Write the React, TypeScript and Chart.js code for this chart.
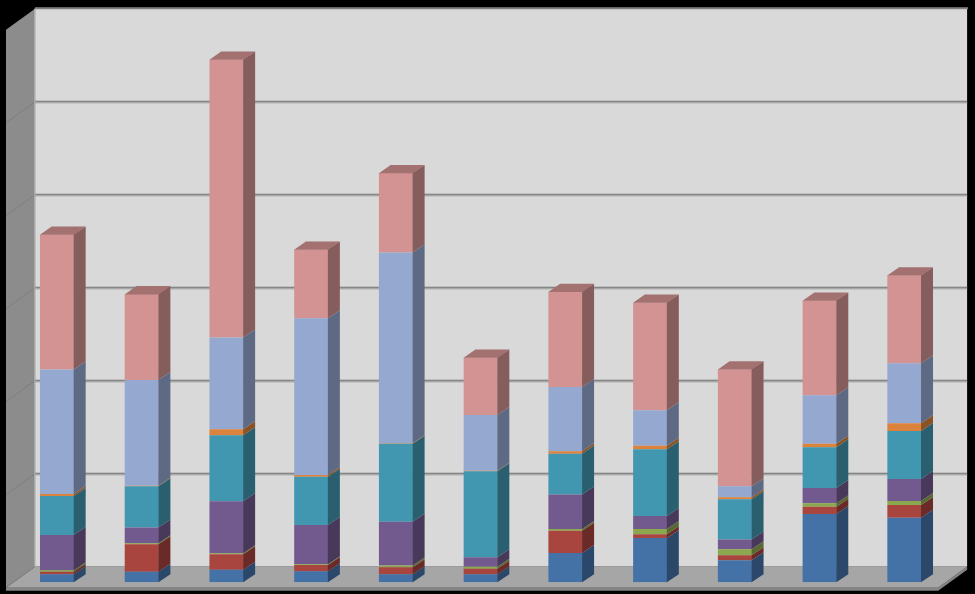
import React, { useEffect, useRef } from "react";
import { Chart, registerables } from "chart.js";

Chart.register(...registerables);

// ---- data (stack order bottom -> top) ----
const categories = ["1", "2", "3", "4", "5", "6", "7", "8", "9", "10", "11"];
const blueValues = [0.086, 0.114, 0.135, 0.12, 0.086, 0.086, 0.315, 0.476, 0.237, 0.734, 0.695];
const redValues = [0.028, 0.295, 0.166, 0.065, 0.075, 0.06, 0.24, 0.04, 0.054, 0.079, 0.137];
const greenValues = [0.015, 0.01, 0.011, 0.01, 0.02, 0.02, 0.018, 0.057, 0.065, 0.036, 0.043];
const purpleValues = [0.38, 0.17, 0.56, 0.42, 0.47, 0.104, 0.37, 0.14, 0.103, 0.165, 0.237];
const tealValues = [0.42, 0.445, 0.71, 0.52, 0.84, 0.925, 0.44, 0.717, 0.434, 0.437, 0.516];
const orangeValues = [0.02, 0.005, 0.065, 0.018, 0.005, 0.005, 0.026, 0.039, 0.022, 0.039, 0.083];
const lightBlueValues = [1.34, 1.135, 0.985, 1.685, 2.05, 0.6, 0.69, 0.38, 0.118, 0.52, 0.645];
const pinkValues = [1.45, 0.925, 2.99, 0.74, 0.855, 0.617, 1.025, 1.16, 1.258, 1.02, 0.946];
const gridValues = [1, 2, 3, 4, 5];
const axisMin = 0;
const axisMax = 6;

const seriesList = [
  { label: "Series 1", data: blueValues, color: "#4471A6" },
  { label: "Series 2", data: redValues, color: "#A9453F" },
  { label: "Series 3", data: greenValues, color: "#8BA84E" },
  { label: "Series 4", data: purpleValues, color: "#72598E" },
  { label: "Series 5", data: tealValues, color: "#4197AF" },
  { label: "Series 6", data: orangeValues, color: "#DB833C" },
  { label: "Series 7", data: lightBlueValues, color: "#95A9D0" },
  { label: "Series 8", data: pinkValues, color: "#D39392" },
];

function shade(hex: string, f: number): string {
  const n = parseInt(hex.slice(1), 16);
  const r = Math.round(((n >> 16) & 255) * f);
  const g = Math.round(((n >> 8) & 255) * f);
  const b = Math.round((n & 255) * f);
  return `rgb(${r},${g},${b})`;
}

// geometry of the 3D look (pixels)
const BACK_DX = 20.4; // front plane -> back wall
const BACK_DY = -15.6;
const DEPTH_X = -29; // back wall -> floor front
const DEPTH_Y = 21;
const BAR_DX = 11.7; // bar depth
const BAR_DY = -8;

function poly(ctx: CanvasRenderingContext2D, pts: number[][], fill: string) {
  ctx.beginPath();
  ctx.moveTo(pts[0][0], pts[0][1]);
  for (let i = 1; i < pts.length; i++) ctx.lineTo(pts[i][0], pts[i][1]);
  ctx.closePath();
  ctx.fillStyle = fill;
  ctx.fill();
}

const threeDPlugin = {
  id: "threeD",
  beforeDatasetsDraw(chart: any) {
    const ctx: CanvasRenderingContext2D = chart.ctx;
    const { left, right } = chart.chartArea;
    const ys = chart.scales.y;
    const by = (v: number) => ys.getPixelForValue(v) + BACK_DY;
    const bx0 = left + BACK_DX;
    const bx1 = right + BACK_DX;
    const yTop = by(axisMax);
    const yBot = by(axisMin);
    ctx.save();
    ctx.fillStyle = "#000";
    ctx.fillRect(0, 0, chart.width, chart.height);

    // left side wall
    poly(
      ctx,
      [
        [bx0, yTop],
        [bx0 + DEPTH_X, yTop + DEPTH_Y],
        [bx0 + DEPTH_X, yBot + DEPTH_Y],
        [bx0, yBot],
      ],
      "#8C8C8C"
    );
    // back wall
    ctx.fillStyle = "#D9D9D9";
    ctx.fillRect(bx0, yTop, bx1 - bx0, yBot - yTop);

    // floor slab thickness
    poly(
      ctx,
      [
        [bx0 + DEPTH_X, yBot + DEPTH_Y],
        [bx1 + DEPTH_X, yBot + DEPTH_Y],
        [bx1, yBot],
        [bx1, yBot + 3],
        [bx1 + DEPTH_X, yBot + DEPTH_Y + 3],
        [bx0 + DEPTH_X, yBot + DEPTH_Y + 3],
      ],
      "#858585"
    );
    // floor top
    poly(
      ctx,
      [
        [bx0, yBot],
        [bx1, yBot],
        [bx1 + DEPTH_X, yBot + DEPTH_Y],
        [bx0 + DEPTH_X, yBot + DEPTH_Y],
      ],
      "#A6A6A6"
    );

    // gridlines on back wall and side wall
    for (const v of gridValues) {
      const gy = by(v);
      ctx.fillStyle = "#868686";
      ctx.fillRect(bx0, gy - 1, bx1 - bx0, 2);
      ctx.fillStyle = "#BDBDBD";
      ctx.fillRect(bx0, gy + 1, bx1 - bx0, 1);
      ctx.beginPath();
      ctx.moveTo(bx0, gy);
      ctx.lineTo(bx0 + DEPTH_X, gy + DEPTH_Y);
      ctx.strokeStyle = "#7E7E7E";
      ctx.lineWidth = 1;
      ctx.stroke();
    }
    // top edge of back wall
    ctx.fillStyle = "#7F7F7F";
    ctx.fillRect(bx0, yTop - 1.5, bx1 - bx0 + 1, 2);
    // left edge highlight of back wall
    ctx.fillStyle = "#A8A8A8";
    ctx.fillRect(bx0 - 1, yTop, 1.5, yBot - yTop);
    ctx.restore();
  },
  afterDatasetsDraw(chart: any) {
    const ctx: CanvasRenderingContext2D = chart.ctx;
    const n = chart.data.labels.length;
    const nd = chart.data.datasets.length;
    ctx.save();
    for (let i = 0; i < nd; i++) {
      const meta = chart.getDatasetMeta(i);
      const color = seriesList[i].color;
      meta.data.forEach((el: any, j: number) => {
        const v = chart.data.datasets[i].data[j];
        if (!v) return;
        const p = el.getProps(["x", "y", "base", "width"], true);
        const r = p.x + p.width / 2;
        poly(
          ctx,
          [
            [r - 0.3, p.y],
            [r + BAR_DX, p.y + BAR_DY],
            [r + BAR_DX, p.base + BAR_DY],
            [r - 0.3, p.base],
          ],
          shade(color, 0.63)
        );
      });
    }
    // top faces
    for (let j = 0; j < n; j++) {
      let top = -1;
      for (let i = 0; i < nd; i++) if (chart.data.datasets[i].data[j] > 0) top = i;
      if (top < 0) continue;
      const el = chart.getDatasetMeta(top).data[j];
      const p = el.getProps(["x", "y", "base", "width"], true);
      const l = p.x - p.width / 2;
      const r = p.x + p.width / 2;
      poly(
        ctx,
        [
          [l, p.y + 0.3],
          [l + BAR_DX, p.y + BAR_DY],
          [r + BAR_DX, p.y + BAR_DY],
          [r, p.y + 0.3],
        ],
        shade(seriesList[top].color, 0.77)
      );
    }
    ctx.restore();
  },
};

export default function App() {
  const ref = useRef<HTMLCanvasElement | null>(null);
  useEffect(() => {
    if (!ref.current) return;
    const chart = new Chart(ref.current, {
      type: "bar",
      data: {
        labels: categories,
        datasets: seriesList.map((s) => ({
          label: s.label,
          data: s.data,
          backgroundColor: s.color,
          borderWidth: 0,
          barPercentage: 0.401,
          categoryPercentage: 1,
        })),
      },
      options: {
        animation: false,
        responsive: false,
        devicePixelRatio: 1,
        layout: { padding: { left: 14.6, right: 28.3, top: 24.3, bottom: 11.7 } },
        plugins: { legend: { display: false }, tooltip: { enabled: false } },
        scales: {
          x: { stacked: true, display: false, offset: true },
          y: { stacked: true, display: false, min: axisMin, max: axisMax },
        },
      },
      plugins: [threeDPlugin],
    });
    return () => chart.destroy();
  }, []);
  return (
    <div style={{ position: "fixed", left: 0, top: 0, width: 975, height: 594, background: "#000" }}>
      <canvas ref={ref} width={975} height={594} style={{ display: "block" }} />
    </div>
  );
}
